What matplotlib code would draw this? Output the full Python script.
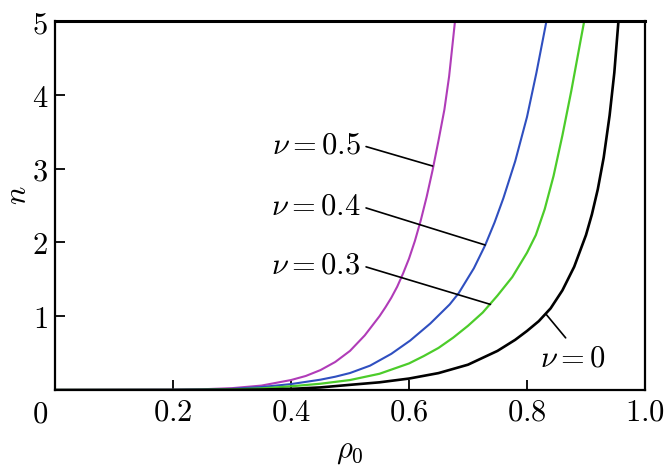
import numpy as np
import matplotlib
matplotlib.use('Agg')
import matplotlib.pyplot as plt

plt.rcParams['mathtext.fontset'] = 'cm'
plt.rcParams['font.family'] = 'serif'

# curves n(rho0), one per nu
rho_05 = [0.0, 0.2, 0.25, 0.3, 0.35, 0.4, 0.425, 0.45, 0.475, 0.5, 0.525, 0.55, 0.56, 0.57, 0.58, 0.59, 0.6,
          0.61, 0.62, 0.63, 0.64, 0.65, 0.66, 0.668, 0.678]
n_05 = [0.0, 0.003, 0.01, 0.025, 0.06, 0.135, 0.19, 0.27, 0.38, 0.53, 0.74, 1.0, 1.12, 1.25, 1.4, 1.58, 1.78,
        2.02, 2.3, 2.62, 2.98, 3.38, 3.8, 4.25, 5.0]

rho_04 = [0.0, 0.2, 0.25, 0.3, 0.35, 0.4, 0.45, 0.475, 0.5, 0.534, 0.57, 0.602, 0.636, 0.669, 0.684, 0.71,
          0.729, 0.745, 0.76, 0.78, 0.8, 0.816, 0.833]
n_04 = [0.0, 0.002, 0.006, 0.015, 0.04, 0.08, 0.14, 0.18, 0.23, 0.33, 0.49, 0.67, 0.9, 1.16, 1.31, 1.65,
        1.96, 2.27, 2.6, 3.1, 3.7, 4.3, 5.0]

rho_03 = [0.0, 0.2, 0.25, 0.3, 0.35, 0.4, 0.45, 0.5, 0.55, 0.6, 0.625, 0.65, 0.675, 0.7, 0.725,
          0.75, 0.775, 0.8, 0.815, 0.83, 0.845, 0.86, 0.875, 0.89, 0.897]
n_03 = [0.0, 0.001, 0.004, 0.008, 0.022, 0.05, 0.085, 0.135, 0.22, 0.36, 0.46, 0.57, 0.71, 0.87, 1.05,
        1.28, 1.53, 1.86, 2.1, 2.45, 2.9, 3.45, 4.05, 4.7, 5.0]

rho_00 = [0.0, 0.25, 0.3, 0.35, 0.4, 0.45, 0.5, 0.55, 0.6, 0.65, 0.7, 0.75, 0.78, 0.8, 0.82, 0.84,
          0.86, 0.88, 0.9, 0.91, 0.92, 0.93, 0.94, 0.948, 0.955]
n_00 = [0.0, 0.0, 0.002, 0.006, 0.015, 0.035, 0.07, 0.104, 0.155, 0.229, 0.343, 0.53, 0.68, 0.8, 0.933, 1.106,
        1.35, 1.67, 2.1, 2.38, 2.72, 3.15, 3.72, 4.3, 5.0]

labels = [r'$\nu = 0.5$', r'$\nu = 0.4$', r'$\nu = 0.3$', r'$\nu = 0$']
colors = ['#b03cb8', '#2f4fc0', '#4ccc2a', 'black']
xticks = [0.2, 0.4, 0.6, 0.8, 1.0]
yticks = [1, 2, 3, 4, 5]

fig = plt.figure(figsize=(6.7, 4.7), dpi=100)
ax = fig.add_axes([55/670, 80/470, 590/670, 369/470])

ax.plot(rho_05, n_05, color=colors[0], lw=1.5)
ax.plot(rho_04, n_04, color=colors[1], lw=1.5)
ax.plot(rho_03, n_03, color=colors[2], lw=1.6)
ax.plot(rho_00, n_00, color=colors[3], lw=1.9)

ax.set_xlim(0, 1.0)
ax.set_ylim(0, 5)

fs = 22
ax.set_xticks(xticks)
ax.set_xticklabels(['$%.1f$' % v for v in xticks], fontsize=fs)
ax.set_yticks(yticks)
ax.set_yticklabels(['$%d$' % v for v in yticks], fontsize=fs)
ax.tick_params(direction='in', length=7, width=1.3, pad=5)
fig.text(48/670, 1 - 414/470, '$0$', ha='right', va='center', fontsize=fs)

for s in ['left', 'bottom', 'right']:
    ax.spines[s].set_linewidth(1.6)
ax.spines['top'].set_linewidth(2.2)

fig.text(350/670, 1 - 450/470, r'$\rho_0$', ha='center', va='center', fontsize=fs)
fig.text(18/670, 1 - 195/470, r'$n$', ha='center', va='center', rotation=90, fontsize=fs)

line = dict(arrowstyle='-', color='black', lw=1.2, shrinkA=2, shrinkB=0, relpos=(1, 0.5))
ax.annotate(labels[0], xy=(0.640, 3.035), xytext=(0.518, 3.32), fontsize=fs,
            ha='right', va='center', arrowprops=line)
ax.annotate(labels[1], xy=(0.729, 1.965), xytext=(0.518, 2.49), fontsize=fs,
            ha='right', va='center', arrowprops=line)
ax.annotate(labels[2], xy=(0.738, 1.16), xytext=(0.518, 1.69), fontsize=fs,
            ha='right', va='center', arrowprops=line)
line0 = dict(arrowstyle='-', color='black', lw=1.2, shrinkA=2, shrinkB=0, relpos=(0.45, 1))
ax.annotate(labels[3], xy=(0.833, 1.02), xytext=(0.878, 0.43), fontsize=fs,
            ha='center', va='center', arrowprops=line0)

fig.savefig('out.png', dpi=100)
